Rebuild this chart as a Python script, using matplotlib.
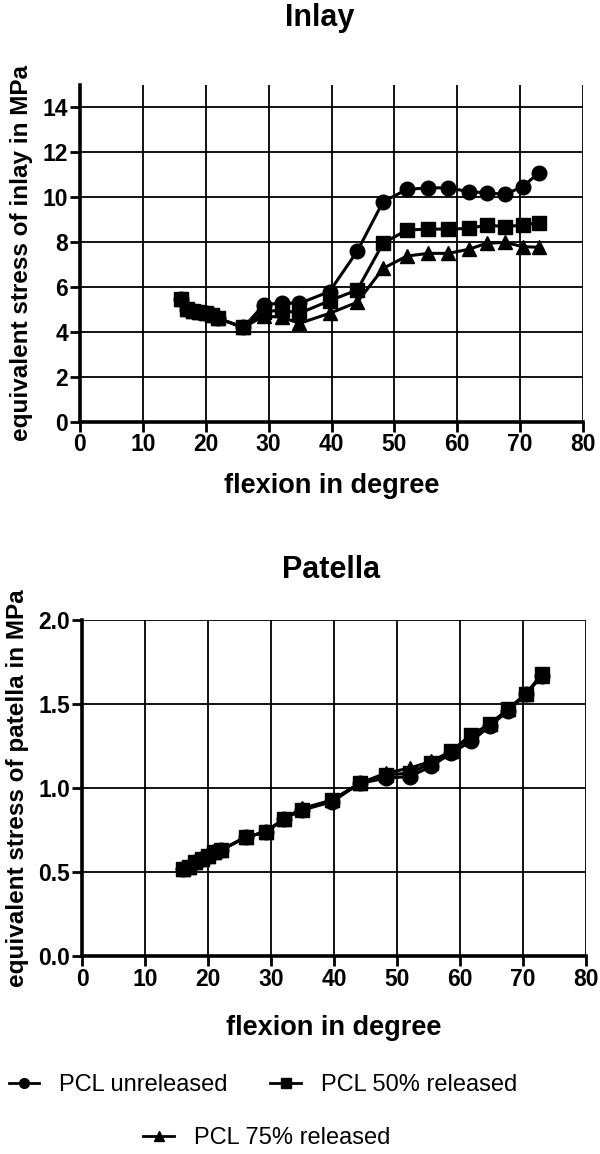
import numpy as np
import matplotlib
matplotlib.use('Agg')
from matplotlib import pyplot as plt
from matplotlib.lines import Line2D

plt.rcParams['font.family'] = ['Liberation Sans', 'DejaVu Sans']

# flexion angles (shared by all series)
FLEXION = [16, 17, 18, 19, 20, 21, 22, 26, 29.2, 32.1, 34.9, 39.7, 44.1, 48.2,
           52.0, 55.4, 58.6, 61.8, 64.7, 67.6, 70.4, 73.0]

# inlay equivalent stress in MPa
INLAY_UNREL = [5.45, 5.0, 4.95, 4.9, 4.85, 4.75, 4.6, 4.2, 5.2, 5.3, 5.27, 5.8,
               7.6, 9.8, 10.35, 10.42, 10.42, 10.25, 10.2, 10.13, 10.47, 11.09]
INLAY_50 = [5.45, 5.0, 4.95, 4.9, 4.85, 4.75, 4.6, 4.2, 4.9, 4.97, 4.83, 5.39,
            5.87, 7.95, 8.54, 8.58, 8.58, 8.61, 8.76, 8.69, 8.76, 8.86]
INLAY_75 = [5.45, 5.0, 4.95, 4.9, 4.85, 4.75, 4.6, 4.2, 4.7, 4.66, 4.38, 4.83,
            5.32, 6.83, 7.38, 7.5, 7.5, 7.68, 7.95, 7.99, 7.8, 7.77]

# patella equivalent stress in MPa
PAT_UNREL = [0.52, 0.53, 0.56, 0.58, 0.60, 0.62, 0.63, 0.71, 0.74, 0.82, 0.87,
             0.92, 1.03, 1.06, 1.07, 1.13, 1.21, 1.28, 1.37, 1.46, 1.56, 1.67]
PAT_50 = [0.52, 0.53, 0.56, 0.58, 0.60, 0.62, 0.63, 0.71, 0.74, 0.82, 0.87,
          0.93, 1.03, 1.08, 1.09, 1.15, 1.22, 1.32, 1.38, 1.47, 1.56, 1.68]
PAT_75 = [0.52, 0.53, 0.56, 0.58, 0.60, 0.62, 0.63, 0.71, 0.74, 0.82, 0.88,
          0.93, 1.03, 1.09, 1.12, 1.16, 1.22, 1.31, 1.38, 1.47, 1.56, 1.67]

LABELS = ['PCL unreleased', 'PCL 50% released', 'PCL 75% released']


def style_axes(ax, ylim, yticks, yfmt, ylabel, xpad):
    ax.set_xlim(0, 80)
    ax.set_ylim(*ylim)
    ax.set_xticks(np.arange(0, 81, 10))
    ax.set_yticks(yticks)
    ax.set_yticklabels([yfmt.format(v) for v in yticks])
    ax.spines['top'].set_visible(False)
    ax.spines['right'].set_visible(False)
    for s in ['left', 'bottom']:
        ax.spines[s].set_linewidth(2.6)
    ax.tick_params(direction='out', length=7, width=2, pad=1.5,
                   labelsize=16.5)
    for t in ax.get_xticklabels() + ax.get_yticklabels():
        t.set_fontweight('bold')
    ax.grid(True, color='black', linewidth=1.3)
    ax.set_axisbelow(True)
    ax.set_xlabel('flexion in degree', fontsize=19.5, fontweight='bold',
                  labelpad=xpad)
    ax.set_ylabel(ylabel, fontsize=17.5, fontweight='bold', labelpad=7)


def draw(ax, a, b, c):
    ax.plot(FLEXION, c, color='black', lw=2.2, marker='^', ms=10.5,
            clip_on=False, zorder=3)
    ax.plot(FLEXION, a, color='black', lw=2.2, marker='o', ms=10.5,
            clip_on=False, zorder=4)
    ax.plot(FLEXION, b, color='black', lw=2.2, marker='s', ms=9.5,
            clip_on=False, zorder=5)


fig = plt.figure(figsize=(6, 11.54), dpi=100)

ax1 = fig.add_axes([0.1333, 0.6346, 0.8384, 0.2917])
draw(ax1, INLAY_UNREL, INLAY_50, INLAY_75)
style_axes(ax1, (0, 15), np.arange(0, 15, 2), '{:.0f}',
           'equivalent stress of inlay in MPa', 12)

ax2 = fig.add_axes([0.1367, 0.1713, 0.84, 0.2912])
draw(ax2, PAT_UNREL, PAT_50, PAT_75)
style_axes(ax2, (0, 2), np.arange(0, 2.01, 0.5), '{:.1f}',
           'equivalent stress of patella in MPa', 17)

fig.text(320 / 600, 1 - 18 / 1154, 'Inlay', ha='center', va='center',
         fontsize=22, fontweight='bold')
fig.text(331 / 600, 1 - 570 / 1154, 'Patella', ha='center', va='center',
         fontsize=22, fontweight='bold')

h_unrel = Line2D([], [], color='black', lw=2, marker='o', ms=7)
h_50 = Line2D([], [], color='black', lw=2, marker='s', ms=7)
h_75 = Line2D([], [], color='black', lw=2, marker='^', ms=7)

leg1 = fig.legend([h_unrel, h_50], LABELS[:2], ncol=2, loc='center',
                  bbox_to_anchor=(263 / 600, 1 - 1085 / 1154), frameon=False,
                  fontsize=17, handlelength=1.3, handletextpad=0.85,
                  columnspacing=1.8, borderpad=0)
leg2 = fig.legend([h_75], LABELS[2:], loc='center',
                  bbox_to_anchor=(267 / 600, 1 - 1138 / 1154), frameon=False,
                  fontsize=17, handlelength=1.3, handletextpad=0.85,
                  borderpad=0)

fig.savefig('out.png', dpi=100)
